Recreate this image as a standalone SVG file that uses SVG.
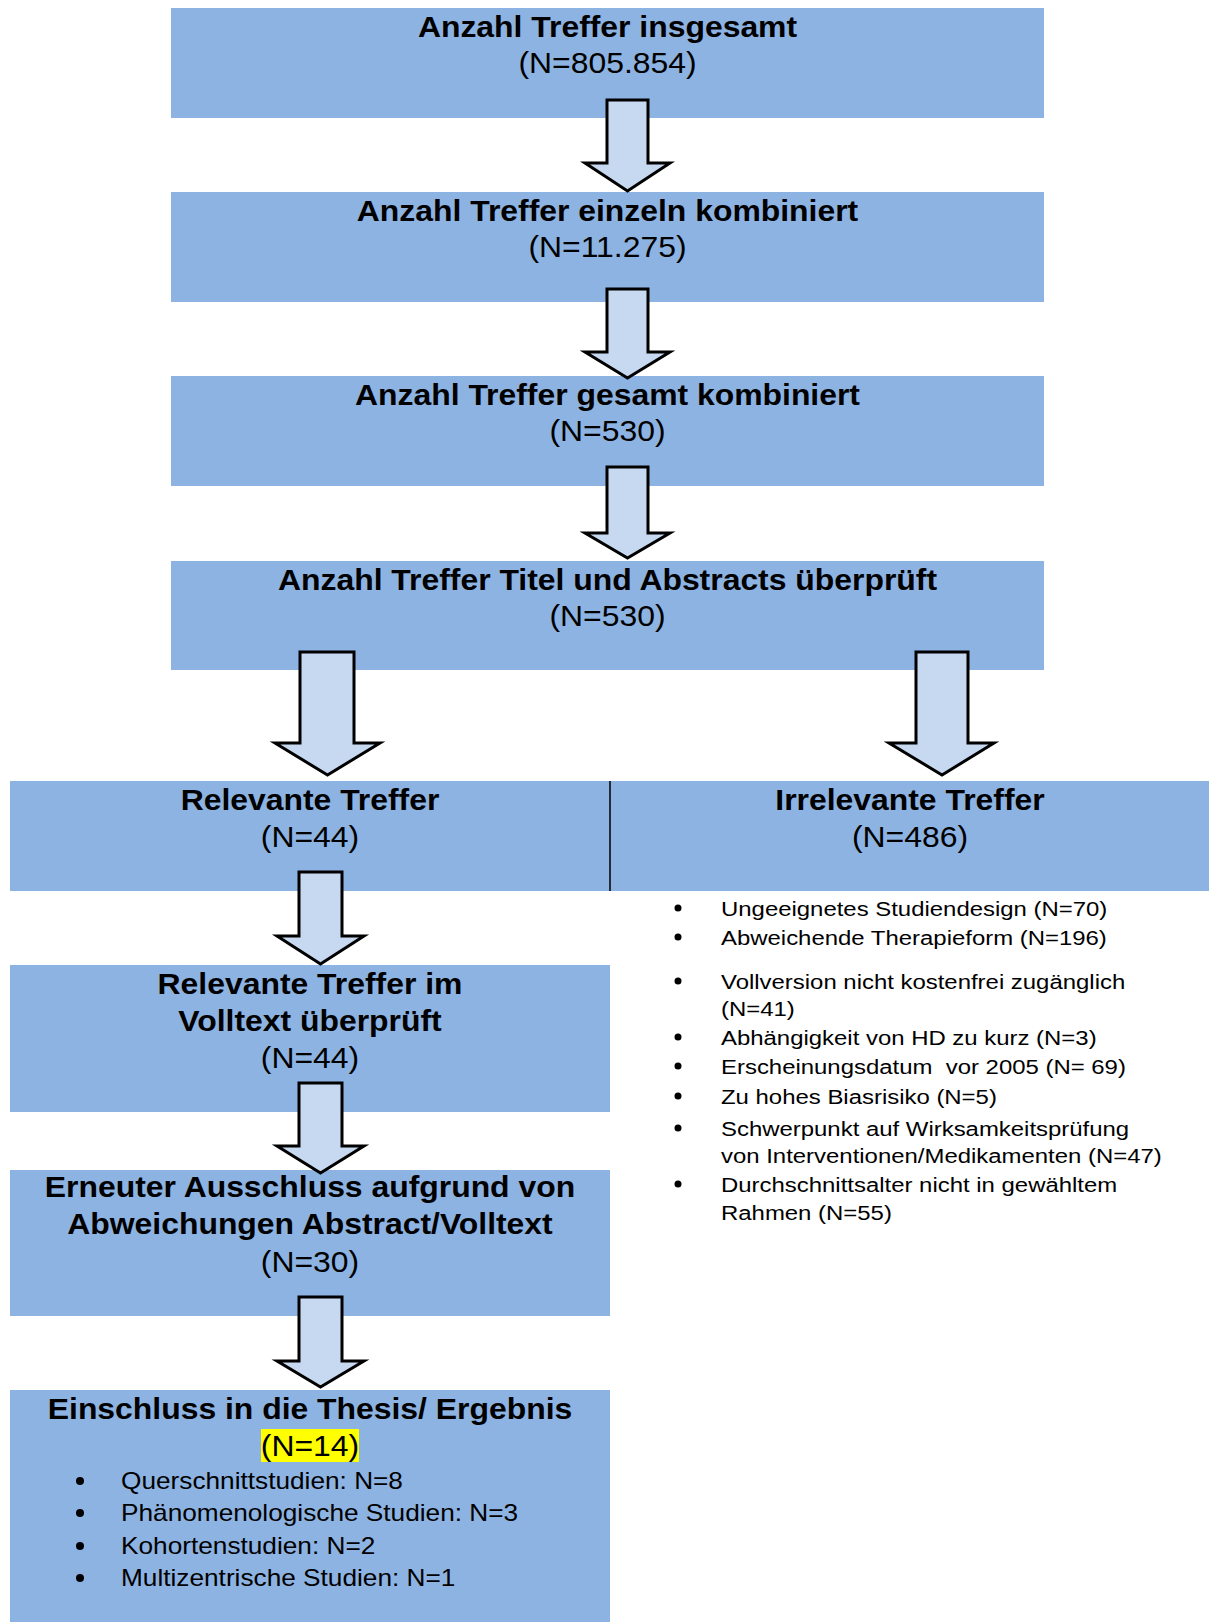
<svg xmlns="http://www.w3.org/2000/svg" width="1209" height="1622" viewBox="0 0 1209 1622">
<style>
.box{fill:#8DB3E2}
.arr{fill:#C6D9F1;stroke:#000;stroke-width:3;stroke-linejoin:miter}
text{font-family:"Liberation Sans",Arial,sans-serif;fill:#000}
.t{font-size:29px;font-weight:bold;text-anchor:middle}
.n{font-size:29px;text-anchor:middle}
.l{font-size:21px}
.b{font-size:23px}
</style>
<rect width="1209" height="1622" fill="#fff"/>
<g id="n1"><rect class="box" x="171" y="8" width="873" height="110"/>
<text class="t" transform="translate(607.5 37) scale(1.1 1)">Anzahl Treffer insgesamt</text>
<text class="n" transform="translate(607.5 73) scale(1.1 1)">(N=805.854)</text></g>
<g id="n2"><rect class="box" x="171" y="192" width="873" height="110"/>
<text class="t" transform="translate(607.5 221) scale(1.1 1)">Anzahl Treffer einzeln kombiniert</text>
<text class="n" transform="translate(607.5 257) scale(1.1 1)">(N=11.275)</text></g>
<g id="n3"><rect class="box" x="171" y="376" width="873" height="110"/>
<text class="t" transform="translate(607.5 405) scale(1.1 1)">Anzahl Treffer gesamt kombiniert</text>
<text class="n" transform="translate(607.5 441) scale(1.1 1)">(N=530)</text></g>
<g id="n4"><rect class="box" x="171" y="561" width="873" height="109"/>
<text class="t" transform="translate(607.5 590) scale(1.1 1)">Anzahl Treffer Titel und Abstracts überprüft</text>
<text class="n" transform="translate(607.5 626) scale(1.1 1)">(N=530)</text></g>
<g id="n5"><rect class="box" x="10" y="781" width="600" height="110"/>
<text class="t" transform="translate(310 810) scale(1.1 1)">Relevante Treffer</text>
<text class="n" transform="translate(310 847) scale(1.1 1)">(N=44)</text></g>
<g id="n6"><rect class="box" x="610" y="781" width="599" height="110"/>
<line x1="610" y1="781" x2="610" y2="891" stroke="#000" stroke-width="1.5"/>
<text class="t" transform="translate(910 810) scale(1.1 1)">Irrelevante Treffer</text>
<text class="n" transform="translate(910 847) scale(1.1 1)">(N=486)</text></g>
<g id="n6list">
<g fill="#000"><circle cx="678" cy="908" r="3.5"/><circle cx="678" cy="937" r="3.5"/><circle cx="678" cy="981" r="3.5"/><circle cx="678" cy="1037" r="3.5"/><circle cx="678" cy="1066" r="3.5"/><circle cx="678" cy="1096" r="3.5"/><circle cx="678" cy="1128" r="3.5"/><circle cx="678" cy="1184" r="3.5"/></g>
<text class="l" transform="translate(721 916) scale(1.14 1)">Ungeeignetes Studiendesign (N=70)</text>
<text class="l" transform="translate(721 945) scale(1.14 1)">Abweichende Therapieform (N=196)</text>
<text class="l" transform="translate(721 989) scale(1.14 1)">Vollversion nicht kostenfrei zugänglich</text>
<text class="l" transform="translate(721 1016) scale(1.14 1)">(N=41)</text>
<text class="l" transform="translate(721 1045) scale(1.14 1)">Abhängigkeit von HD zu kurz (N=3)</text>
<text class="l" transform="translate(721 1074) scale(1.14 1)" xml:space="preserve">Erscheinungsdatum  vor 2005 (N= 69)</text>
<text class="l" transform="translate(721 1104) scale(1.14 1)">Zu hohes Biasrisiko (N=5)</text>
<text class="l" transform="translate(721 1136) scale(1.14 1)">Schwerpunkt auf Wirksamkeitsprüfung</text>
<text class="l" transform="translate(721 1163) scale(1.14 1)">von Interventionen/Medikamenten (N=47)</text>
<text class="l" transform="translate(721 1192) scale(1.14 1)">Durchschnittsalter nicht in gewähltem</text>
<text class="l" transform="translate(721 1220) scale(1.14 1)">Rahmen (N=55)</text>
</g>
<g id="n7"><rect class="box" x="10" y="965" width="600" height="147"/>
<text class="t" transform="translate(310 994) scale(1.1 1)">Relevante Treffer im</text>
<text class="t" transform="translate(310 1031) scale(1.1 1)">Volltext überprüft</text>
<text class="n" transform="translate(310 1068) scale(1.1 1)">(N=44)</text></g>
<g id="n8"><rect class="box" x="10" y="1170" width="600" height="146"/>
<text class="t" transform="translate(310 1197) scale(1.1 1)">Erneuter Ausschluss aufgrund von</text>
<text class="t" transform="translate(310 1234) scale(1.1 1)">Abweichungen Abstract/Volltext</text>
<text class="n" transform="translate(310 1272) scale(1.1 1)">(N=30)</text></g>
<g id="n9"><rect class="box" x="10" y="1390" width="600" height="232"/>
<rect x="261" y="1429" width="98" height="33" fill="#FFFF00"/>
<text class="t" transform="translate(310 1419) scale(1.1 1)">Einschluss in die Thesis/ Ergebnis</text>
<text class="n" transform="translate(310 1456) scale(1.1 1)">(N=14)</text>
<g fill="#000"><circle cx="80" cy="1481" r="4"/><circle cx="80" cy="1513" r="4"/><circle cx="80" cy="1546" r="4"/><circle cx="80" cy="1578" r="4"/></g>
<text class="b" transform="translate(121 1489) scale(1.14 1)">Querschnittstudien: N=8</text>
<text class="b" transform="translate(121 1521) scale(1.14 1)">Phänomenologische Studien: N=3</text>
<text class="b" transform="translate(121 1554) scale(1.14 1)">Kohortenstudien: N=2</text>
<text class="b" transform="translate(121 1586) scale(1.14 1)">Multizentrische Studien: N=1</text></g>
<g id="connectors">
<path class="arr" d="M607 100 H648 V163 H670 L627.5 191 L585 163 H607 Z"/>
<path class="arr" d="M607 289 H648 V352 H670 L627.5 378 L585 352 H607 Z"/>
<path class="arr" d="M607 467 H648 V533 H670 L627.5 558 L585 533 H607 Z"/>
<path class="arr" d="M300 652 H354 V743 H380 L327.5 775 L275 743 H300 Z"/>
<path class="arr" d="M916 652 H968 V743 H994 L942 775 L889 743 H916 Z"/>
<path class="arr" d="M299 872 H342 V936 H364 L320.5 964 L277 936 H299 Z"/>
<path class="arr" d="M299 1083 H342 V1146 H364 L320.5 1173 L277 1146 H299 Z"/>
<path class="arr" d="M299 1297 H342 V1361 H364 L320.5 1387 L277 1361 H299 Z"/>
</g>
</svg>
